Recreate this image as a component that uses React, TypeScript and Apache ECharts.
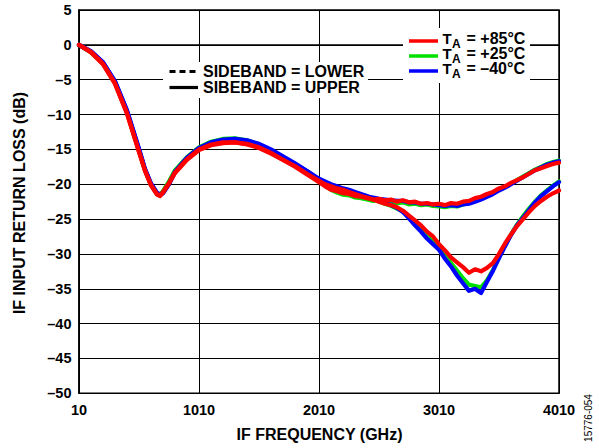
import React, { useEffect, useRef } from "react";
import * as echarts from "echarts";

// IF frequency sample points (shared by all series)
const freqMHz = [10, 110, 210, 310, 410, 510, 560, 610, 660, 685, 710, 760, 810, 910, 1010,
  1110, 1210, 1310, 1410, 1510, 1610, 1710, 1810, 1910, 2010,
  2060, 2110, 2160, 2210, 2260, 2310, 2360, 2410, 2460, 2510,
  2560, 2610, 2660, 2710, 2760, 2810, 2860, 2910, 2960, 3010,
  3060, 3110, 3160, 3210, 3260, 3310, 3360, 3410, 3460, 3510,
  3560, 3610, 3660, 3710, 3760, 3810, 3860, 3910, 3960, 4010];

const xTicks = [10, 1010, 2010, 3010, 4010];

// +85°C
const red85Upper = [0, -1.0, -2.7, -5.5, -9.8, -15.3, -18.0, -20.1, -21.4, -21.6, -21.1, -19.8, -18.3, -16.4, -15.0,
  -14.3, -14.0, -14.0, -14.2, -14.7, -15.5, -16.5, -17.5, -18.6, -19.7,
  -20.3, -20.8, -21.0, -21.3, -21.4, -21.7, -21.8, -22.0, -22.2, -22.1,
  -22.3, -22.2, -22.5, -22.3, -22.6, -22.5, -22.8, -22.7, -22.9, -22.8,
  -23.0, -22.7, -22.8, -22.5, -22.4, -22.0, -21.8, -21.4, -21.1, -20.6,
  -20.3, -19.8, -19.4, -19.0, -18.5, -18.0, -17.7, -17.4, -17.1, -16.9];
const red85Lower = [0, -1.1, -2.8, -5.6, -9.9, -15.4, -18.1, -20.2, -21.5, -21.7, -21.2, -19.9, -18.4, -16.5, -15.1,
  -14.4, -14.1, -14.0, -14.3, -14.8, -15.6, -16.5, -17.4, -18.5, -19.5,
  -20.0, -20.3, -20.6, -20.8, -21.1, -21.4, -21.7, -21.9, -22.2, -22.5,
  -22.8, -23.0, -23.3, -23.8, -24.5, -25.2, -25.9, -26.8, -27.5, -28.6,
  -29.5, -30.5, -31.2, -31.9, -32.7, -32.2, -32.5, -32.0, -31.3, -30.0,
  -28.5, -27.2, -26.0, -25.0, -24.0, -23.1, -22.4, -21.8, -21.3, -20.9];

// +25°C
const green25Upper = [0, -1.0, -2.6, -5.4, -9.6, -15.1, -17.9, -20.0, -21.3, -21.5, -21.0, -19.6, -18.0, -16.1, -14.7,
  -13.9, -13.5, -13.4, -13.7, -14.3, -15.2, -16.2, -17.2, -18.4, -19.6,
  -20.2, -20.8, -21.2, -21.5, -21.6, -21.9, -22.0, -22.2, -22.4, -22.3,
  -22.5, -22.6, -22.7, -22.6, -22.9, -22.8, -23.0, -22.9, -23.1, -23.2,
  -23.3, -23.1, -23.2, -22.9, -22.7, -22.4, -22.0, -21.7, -21.3, -20.8,
  -20.4, -19.9, -19.4, -18.9, -18.4, -17.9, -17.5, -17.1, -16.8, -16.6];
const green25Lower = [0, -1.1, -2.7, -5.5, -9.7, -15.2, -18.0, -20.1, -21.4, -21.6, -21.1, -19.7, -18.1, -16.2, -14.8,
  -14.0, -13.6, -13.5, -13.8, -14.4, -15.3, -16.2, -17.2, -18.3, -19.4,
  -19.8, -20.2, -20.4, -20.7, -21.0, -21.3, -21.6, -21.8, -22.1, -22.5,
  -22.8, -23.1, -23.5, -23.9, -24.7, -25.6, -26.5, -27.4, -28.3, -29.1,
  -30.2, -31.3, -32.4, -33.5, -34.4, -34.6, -34.8, -33.8, -32.3, -30.5,
  -28.8, -27.2, -25.8, -24.6, -23.5, -22.5, -21.6, -20.9, -20.2, -19.6];

// −40°C
const blue40Upper = [0, -0.9, -2.5, -5.2, -9.4, -14.9, -17.8, -19.9, -21.2, -21.5, -21.2, -19.9, -18.2, -16.2, -14.8,
  -14.0, -13.6, -13.5, -13.7, -14.2, -15.0, -16.0, -17.0, -18.1, -19.3,
  -19.8, -20.2, -20.6, -20.9, -21.2, -21.4, -21.6, -21.8, -21.9, -22.1,
  -22.2, -22.3, -22.4, -22.4, -22.6, -22.6, -22.8, -22.8, -22.9, -23.0,
  -23.1, -23.0, -23.1, -22.9, -22.8, -22.5, -22.2, -21.8, -21.4, -20.9,
  -20.5, -20.0, -19.5, -19.0, -18.5, -18.0, -17.6, -17.2, -16.9, -16.7];
const blue40Lower = [0, -1.0, -2.5, -5.3, -9.5, -15.0, -17.9, -20.0, -21.3, -21.6, -21.3, -20.0, -18.3, -16.3, -14.9,
  -14.1, -13.7, -13.6, -13.8, -14.3, -15.1, -16.1, -17.1, -18.1, -19.2,
  -19.6, -20.0, -20.3, -20.6, -20.8, -21.1, -21.4, -21.7, -22.0, -22.3,
  -22.7, -23.0, -23.4, -24.0, -24.9, -25.9, -26.8, -27.8, -28.6, -29.4,
  -30.7, -31.8, -33.1, -34.2, -35.3, -35.0, -35.6, -34.0, -32.4, -30.6,
  -28.9, -27.3, -25.9, -24.8, -23.7, -22.6, -21.7, -21.0, -20.3, -19.7];

const FONT = "'Liberation Sans', Arial, Helvetica, sans-serif";
const RED = "#ff0000";
const GREEN = "#00e000";
const BLUE = "#0000ff";

function line(name: string, values: number[], color: string) {
  return {
    name,
    type: "line",
    data: freqMHz.map((f, i) => [f, values[i]]),
    showSymbol: false,
    symbol: "none",
    smooth: false,
    lineStyle: { color, width: 4.2, type: "solid", cap: "round", join: "round" },
    itemStyle: { color },
    silent: true,
    z: 2,
  };
}

function legendRow(y: number, color: string, label: string) {
  return [
    { type: "line", shape: { x1: 409, y1: y + 2.3, x2: 438, y2: y + 2.3 }, style: { stroke: color, lineWidth: 3.5 }, z: 101 },
    { type: "text", x: 442.5, y, style: { text: "T", font: `bold 15px ${FONT}`, fill: "#000", textVerticalAlign: "middle", textAlign: "left" }, z: 101 },
    { type: "text", x: 452, y: y + 5, style: { text: "A", font: `bold 12px ${FONT}`, fill: "#000", textVerticalAlign: "middle", textAlign: "left" }, z: 101 },
    { type: "text", x: 466.5, y, style: { text: label, font: `bold 16px ${FONT}`, fill: "#000", textVerticalAlign: "middle", textAlign: "left" }, z: 101 },
  ];
}

export default function App() {
  const ref = useRef<HTMLDivElement>(null);
  useEffect(() => {
    if (!ref.current) return;
    const chart = echarts.init(ref.current, undefined, { renderer: "svg" });
    const option: any = {
      animation: false,
      backgroundColor: "#ffffff",
      textStyle: { fontFamily: FONT },
      grid: { left: 79, right: 40, top: 10, bottom: 54.7, show: true, borderColor: "#000", borderWidth: 1.5, backgroundColor: "transparent" },
      xAxis: {
        type: "value",
        min: 10,
        max: 4010,
        axisLine: { show: true, lineStyle: { color: "#000", width: 1.5 } },
        axisTick: { show: false, customValues: xTicks },
        axisLabel: {
          customValues: xTicks, color: "#000", fontWeight: "bold", fontSize: 14.5, fontFamily: FONT, margin: 9,
          showMinLabel: true, showMaxLabel: true,
          formatter: (v: number) => String(v),
        },
        splitLine: { show: true, lineStyle: { color: "#000", width: 1 } },
      },
      yAxis: {
        type: "value",
        min: -50,
        max: 5,
        interval: 5,
        axisLine: { show: true, lineStyle: { color: "#000", width: 1.5 } },
        axisTick: { show: false },
        axisLabel: {
          color: "#000", fontWeight: "bold", fontSize: 14.5, fontFamily: FONT, margin: 7.5,
          formatter: (v: number) => (v < 0 ? "\u2013" + Math.abs(v) : String(v)),
        },
        splitLine: { show: true, lineStyle: { color: "#000", width: 1 } },
      },
      series: [
        line("+25 lower", green25Lower, GREEN),
        line("+25 upper", green25Upper, GREEN),
        line("-40 lower", blue40Lower, BLUE),
        line("-40 upper", blue40Upper, BLUE),
        line("+85 lower", red85Lower, RED),
        line("+85 upper", red85Upper, RED),
      ],
      graphic: [
        // axis titles
        { type: "text", x: 319.5, y: 434.5, style: { text: "IF FREQUENCY (GHz)", font: `bold 16px ${FONT}`, fill: "#000", textAlign: "center", textVerticalAlign: "middle" }, z: 100 },
        { type: "text", x: 19.5, y: 203, rotation: Math.PI / 2, style: { text: "IF INPUT RETURN LOSS (dB)", font: `bold 16px ${FONT}`, fill: "#000", textAlign: "center", textVerticalAlign: "middle" }, z: 100 },
        { type: "text", x: 588.5, y: 418, rotation: Math.PI / 2, style: { text: "15776-054", font: `10px ${FONT}`, fill: "#000", textAlign: "center", textVerticalAlign: "middle" }, z: 100 },
        // sideband legend
        { type: "rect", shape: { x: 163, y: 62, width: 205, height: 36 }, style: { fill: "#fff" }, z: 100 },
        { type: "line", shape: { x1: 169.5, y1: 71.5, x2: 198, y2: 71.5 }, style: { stroke: "#000", lineWidth: 3.2, lineDash: [6, 4] }, z: 101 },
        { type: "line", shape: { x1: 169.5, y1: 87.5, x2: 198, y2: 87.5 }, style: { stroke: "#000", lineWidth: 3.2 }, z: 101 },
        { type: "text", x: 203, y: 71, style: { text: "SIDEBAND = LOWER", font: `bold 16px ${FONT}`, fill: "#000", textVerticalAlign: "middle" }, z: 101 },
        { type: "text", x: 203, y: 87, style: { text: "SIBEBAND = UPPER", font: `bold 16px ${FONT}`, fill: "#000", textVerticalAlign: "middle" }, z: 101 },
        // temperature legend
        { type: "rect", shape: { x: 403, y: 28, width: 127, height: 55 }, style: { fill: "#fff" }, z: 100 },
        ...legendRow(38.7, RED, "= +85°C"),
        ...legendRow(53.7, GREEN, "= +25°C"),
        ...legendRow(68.7, BLUE, "= \u201340°C"),
      ],
    };
    chart.setOption(option);
    return () => chart.dispose();
  }, []);
  return (
    <div
      ref={ref}
      style={{ position: "fixed", left: 0, top: 0, width: 599, height: 448, background: "#fff" }}
    />
  );
}
